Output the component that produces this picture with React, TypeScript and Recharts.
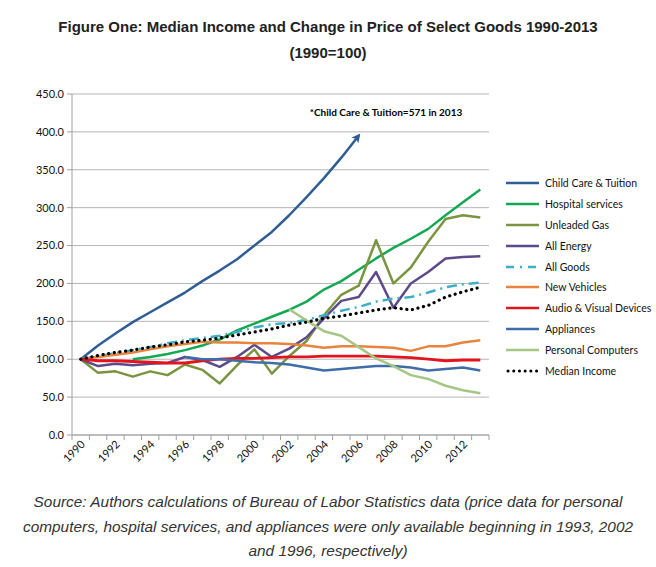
import React from 'react';
import { LineChart, Line, XAxis, YAxis, CartesianGrid, Legend } from 'recharts';

const years = [
  '1990', '1991', '1992', '1993', '1994', '1995', '1996', '1997', '1998', '1999', '2000', '2001',
  '2002', '2003', '2004', '2005', '2006', '2007', '2008', '2009', '2010', '2011', '2012', '2013',
];

const yTicks = [0, 50, 100, 150, 200, 250, 300, 350, 400, 450];

// child care runs off the chart after 2006 (571 in 2013), drawn with an arrow
const childCare = [100, 118, 134, 149, 162, 175, 188, 203, 217, 232, 250, 268, 290, 314, 339, 366, 395, null, null, null, null, null, null, null];
const hospital = [null, null, null, 100, 103, 107, 112, 118, 126, 138, 147, 156, 165, 176, 192, 203, 218, 233, 247, 259, 272, 290, 307, 324];
const gas = [100, 82, 84, 77, 84, 79, 93, 86, 68, 92, 113, 81, 104, 124, 158, 185, 197, 257, 200, 221, 255, 285, 290, 287];
const energy = [100, 91, 94, 92, 94, 95, 103, 99, 90, 103, 119, 103, 114, 129, 154, 177, 182, 215, 168, 200, 215, 233, 235, 236];
const allGoods = [100, 104, 108, 112, 116, 121, 125, 128, 131, 136, 142, 146, 148, 152, 158, 164, 169, 176, 180, 182, 188, 195, 199, 201];
const vehicles = [100, 103, 106, 109, 113, 117, 120, 123, 122, 122, 121, 121, 120, 118, 115, 117, 117, 116, 115, 111, 117, 117, 122, 125];
const audio = [100, 98, 98, 97, 96, 95, 95, 98, 100, 101, 101, 102, 103, 103, 104, 104, 104, 104, 103, 102, 100, 98, 99, 99];
const appliances = [null, null, null, null, null, null, 103, 100, 100, 98, 96, 95, 93, 89, 85, 87, 89, 91, 91, 89, 85, 87, 89, 85];
const computers = [null, null, null, null, null, null, null, null, null, null, null, null, 166, 151, 137, 131, 116, 101, 91, 79, 74, 65, 59, 55];
const medianIncome = [100, 105, 109, 112, 116, 119, 123, 125, 128, 132, 136, 140, 145, 149, 154, 157, 161, 165, 168, 165, 171, 182, 189, 195];

const data = years.map((year, i) => ({
  year,
  childCare: childCare[i],
  hospital: hospital[i],
  gas: gas[i],
  energy: energy[i],
  allGoods: allGoods[i],
  vehicles: vehicles[i],
  audio: audio[i],
  appliances: appliances[i],
  computers: computers[i],
  median: medianIncome[i],
}));

type Series = { key: string; name: string; color: string; width: number; dash?: string; cap?: 'round' | 'butt' };

const series: Series[] = [
  { key: 'childCare', name: 'Child Care & Tuition', color: '#2F5D95', width: 2.5 },
  { key: 'hospital', name: 'Hospital services', color: '#15A853', width: 2.5 },
  { key: 'gas', name: 'Unleaded Gas', color: '#7A9440', width: 2.5 },
  { key: 'energy', name: 'All Energy', color: '#5D4A8A', width: 2.5 },
  { key: 'allGoods', name: 'All Goods', color: '#3DAFC7', width: 2.5, dash: '10 5 2 5' },
  { key: 'vehicles', name: 'New Vehicles', color: '#E8843E', width: 2.5 },
  { key: 'audio', name: 'Audio & Visual Devices', color: '#E3141E', width: 2.8 },
  { key: 'appliances', name: 'Appliances', color: '#3F6DAA', width: 2.5 },
  { key: 'computers', name: 'Personal Computers', color: '#A5C785', width: 2.5 },
  { key: 'median', name: 'Median Income', color: '#000000', width: 3.2, dash: '0.1 5.6', cap: 'round' },
];

const W = 656;
const H = 480;
const LEFT = 72;
const RIGHT = 489;
const TOP = 94;
const BOTTOM = 435;
const CAT_W = (RIGHT - LEFT) / years.length;
const AXIS = '#A0A0A0';
const FONT = 'Lato, "Open Sans", sans-serif';

const YearTick = (props: any) => {
  const { x, y, payload, index } = props;
  const half = CAT_W / 2;
  return (
    <g>
      <line x1={x - half} x2={x - half} y1={y} y2={y + 5} stroke={AXIS} />
      {index === years.length - 1 && <line x1={x + half} x2={x + half} y1={y} y2={y + 5} stroke={AXIS} />}
      {index % 2 === 0 && (
        <text
          transform={`translate(${x + 5},${y + 10}) rotate(-45)`}
          textAnchor="end"
          fontSize={11}
          fontFamily={FONT}
          fill="#111"
        >
          {payload.value}
        </text>
      )}
    </g>
  );
};

const LegendBox = () => (
  <div style={{ fontFamily: FONT, fontSize: 10.5, color: '#111', whiteSpace: 'nowrap' }}>
    {series.map((s) => (
      <div key={s.key} style={{ display: 'flex', alignItems: 'center', height: 20.8 }}>
        <svg width={36} height={8} style={{ marginRight: 3, flex: 'none' }}>
          <line
            x1={s.cap === 'round' ? 2 : 0}
            x2={33}
            y1={4}
            y2={4}
            stroke={s.color}
            strokeWidth={s.cap === 'round' ? 3 : 2.6}
            strokeDasharray={s.key === 'allGoods' ? '8 6 2 6' : s.dash}
            strokeLinecap={s.cap || 'butt'}
          />
        </svg>
        <span>{s.name}</span>
      </div>
    ))}
  </div>
);

export default function App() {
  return (
    <div style={{ position: 'absolute', left: 0, top: 0, width: W, height: 567, background: '#fff', overflow: 'hidden' }}>
      <div
        style={{
          position: 'absolute',
          top: 14,
          left: 0,
          width: W,
          textAlign: 'center',
          fontFamily: '"Liberation Sans", Arial, sans-serif',
          fontWeight: 'bold',
          fontSize: 15,
          lineHeight: '26px',
          color: '#222',
        }}
      >
        Figure One: Median Income and Change in Price of Select Goods 1990-2013
        <br />
        (1990=100)
      </div>
      <div style={{ position: 'absolute', left: 0, top: 0 }}>
        <LineChart width={W} height={H} data={data} margin={{ top: TOP, right: W - RIGHT, bottom: 0, left: 0 }}>
          <defs>
            <marker id="ccArrow" viewBox="0 0 10 10" refX="7" refY="5" markerWidth="3.6" markerHeight="3.6" orient="auto">
              <path d="M0,0 L10,5 L0,10 L2.5,5 z" fill="#2F5D95" />
            </marker>
          </defs>
          <CartesianGrid vertical={false} stroke="#B5B5B5" strokeWidth={1} />
          <XAxis
            dataKey="year"
            interval={0}
            tick={<YearTick />}
            tickLine={false}
            tickSize={0}
            tickMargin={0}
            height={H - BOTTOM}
            padding={{ left: CAT_W / 2, right: CAT_W / 2 }}
            axisLine={{ stroke: AXIS }}
          />
          <YAxis
            width={LEFT}
            domain={[0, 450]}
            ticks={yTicks}
            interval={0}
            tickFormatter={(v: number) => v.toFixed(1)}
            tick={{ fontSize: 11, fontFamily: FONT, fill: '#111' }}
            tickLine={{ stroke: AXIS }}
            tickSize={5}
            tickMargin={3}
            axisLine={{ stroke: AXIS }}
          />
          <Legend
            layout="vertical"
            align="center"
            verticalAlign="middle"
            content={<LegendBox />}
            wrapperStyle={{ left: 506, top: 173, width: 150 }}
          />
          {series.map((s) => (
            <Line
              key={s.key}
              type="linear"
              dataKey={s.key}
              name={s.name}
              stroke={s.color}
              strokeWidth={s.width}
              strokeDasharray={s.dash}
              strokeLinecap={s.cap || 'butt'}
              strokeLinejoin="round"
              dot={false}
              activeDot={false}
              isAnimationActive={false}
              markerEnd={s.key === 'childCare' ? 'url(#ccArrow)' : undefined}
            />
          ))}
          <text x={386} y={116} textAnchor="middle" fontSize={10} fontWeight="bold" fontFamily={FONT} fill="#000">
            *Child Care &amp; Tuition=571 in 2013
          </text>
        </LineChart>
      </div>
      <div
        style={{
          position: 'absolute',
          top: 490,
          left: 0,
          width: W,
          textAlign: 'center',
          fontFamily: '"Liberation Sans", Arial, sans-serif',
          fontStyle: 'italic',
          fontSize: 15.4,
          lineHeight: '24.5px',
          color: '#333',
        }}
      >
        Source: Authors calculations of Bureau of Labor Statistics data (price data for personal
        <br />
        computers, hospital services, and appliances were only available beginning in 1993, 2002
        <br />
        and 1996, respectively)
      </div>
    </div>
  );
}
